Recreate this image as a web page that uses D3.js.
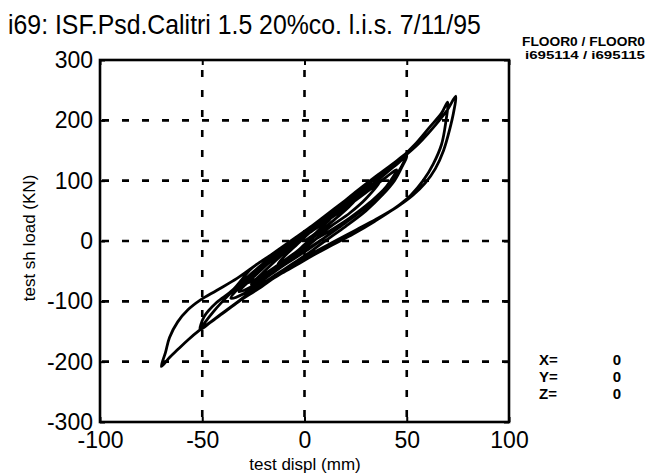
<!DOCTYPE html>
<html>
<head>
<meta charset="utf-8">
<title>i69 hysteresis</title>
<script src="https://cdnjs.cloudflare.com/ajax/libs/d3/7.8.5/d3.min.js"></script>
<style>
  body { margin: 0; background: #fff; }
  text { font-family: "Liberation Sans", Arial, Helvetica, sans-serif; fill: #000; }
</style>
</head>
<body>
<script>
// tick values of the two axes
var xTicks = [-100, -50, 0, 50, 100];
var yTicks = [-300, -200, -100, 0, 100, 200, 300];

// recorded loops, [displ (mm), load (KN)], in order of the test
var loopSmall = [[0,0],[5,12],[10,28],[13,38],[9,30],[4,18],[0,6],[-5,-10],[-10,-26],[-13,-38],[-9,-30],[-4,-18],[0,-6]];
var loop25 = [[5,8],[12,28],[19,48],[25,68],[20,58],[12,40],[4,20],[-4,-2],[-12,-26],[-19,-48],[-26,-72],[-21,-62],[-13,-44],[-5,-24],[3,-4]];
var loop37 = [[12,22],[22,46],[30,70],[37,100],[31,90],[22,68],[12,44],[2,18],[-8,-6],[-18,-34],[-28,-64],[-36,-95],[-30,-88],[-20,-64],[-10,-40],[0,-18]];
var loop50 = [[10,6],[20,30],[30,56],[40,88],[46,115],[50,145],[44,130],[36,110],[26,84],[15,54],[4,26],[-6,0],[-16,-26],[-26,-54],[-36,-86],[-44,-115],[-51,-147],[-46,-135],[-40,-120],[-32,-100],[-22,-78],[-12,-54],[-3,-34]];
var loopBig = [[5,-18],[15,0],[25,18],[35,36],[45,56],[53,76],[59,96],[64,120],[68,150],[71,185],[73,215],[74,240],
  [70,218],[64,192],[56,162],[48,138],[38,112],[27,84],[16,56],[6,30],[-4,6],[-14,-18],[-23,-38],[-33,-62],[-43,-82],[-51,-98],[-57,-114],[-62,-134],[-66,-160],[-68,-185],[-70,-208],
  [-66,-193],[-62,-180],[-57,-164],[-51,-147],[-45,-132],[-40,-119],[-33,-102],[-26,-86],[-19,-70],[-12,-55],[-4,-40]];
var loopBig2 = [[4,-24],[14,-6],[24,12],[34,32],[44,54],[52,76],[58,100],[63,128],[67,160],[69,195],[70,230],
  [67,212],[61,188],[54,160],[46,134],[36,108],[25,80],[14,52],[4,26],[-6,2],[-16,-22],[-26,-46],[-35,-81],[-43,-102],[-49,-125],[-51,-147]];
var loopTail = [[-45,-132],[-38,-114],[-30,-94],[-22,-74],[-14,-56],[-6,-38],[2,-20],[10,0],[20,24],[30,50],[38,76],[44,100],[48,125],[50,140],
  [44,124],[34,96],[22,64],[10,34],[0,10],[-10,-16],[-20,-44],[-28,-70],[-23,-62],[-14,-42],[-4,-18],[4,0]];
var loopEnd = [[12,16],[22,38],[32,64],[40,90],[45,118],[40,106],[30,80],[18,50],[6,22],[-6,-6],[-16,-32],[-25,-60],[-32,-84],[-26,-76],[-16,-54],[-6,-30],[2,-12],[10,6],[18,26]];

var readout = [["X=", "0"], ["Y=", "0"], ["Z=", "0"]];

var width = 652, height = 473;
var margin = {top: 60, left: 100, right: 143, bottom: 51};

var svg = d3.select("body").append("svg")
    .attr("width", width)
    .attr("height", height);

var x = d3.scaleLinear().domain([-100, 100]).range([margin.left, width - margin.right]);
var y = d3.scaleLinear().domain([-300, 300]).range([height - margin.bottom, margin.top]);

// dashed grid
var grid = svg.append("g").attr("class", "grid")
    .attr("stroke", "#000").attr("stroke-width", 2.6).attr("stroke-dasharray", "7,13");
grid.selectAll("line.h").data(yTicks.slice(1, -1)).enter().append("line")
    .attr("x1", x(-100)).attr("x2", x(100))
    .attr("y1", function (d) { return y(d); }).attr("y2", function (d) { return y(d); })
    .attr("stroke-dashoffset", -22);
grid.selectAll("line.v").data(xTicks.slice(1, -1)).enter().append("line")
    .attr("y1", y(300)).attr("y2", y(-300))
    .attr("x1", function (d) { return x(d); }).attr("x2", function (d) { return x(d); })
    .attr("stroke-dashoffset", -10);

// the test record
var record = [].concat(loopSmall, loop25, loop37, loop50, loopBig, loopBig2, loopTail, loopEnd);
var line = d3.line()
    .x(function (d) { return x(d[0]); })
    .y(function (d) { return y(d[1]); })
    .curve(d3.curveCatmullRom.alpha(0.5));
svg.append("path")
    .datum(record)
    .attr("d", line)
    .attr("fill", "none")
    .attr("stroke", "#000")
    .attr("stroke-width", 2.8)
    .attr("stroke-linejoin", "round");

// axes: inward ticks on all four sides, labels on left and bottom
function styleAxis(g) {
    g.select(".domain").remove();
    g.selectAll(".tick line").attr("stroke", "#000").attr("stroke-width", 2);
    g.selectAll(".tick text").attr("font-size", 23);
}
svg.append("g").attr("transform", "translate(0," + y(-300) + ")")
    .call(d3.axisBottom(x).tickValues(xTicks).tickSize(-5).tickPadding(10).tickFormat(String))
    .call(styleAxis);
svg.append("g").attr("transform", "translate(" + x(-100) + ",0)")
    .call(d3.axisLeft(y).tickValues(yTicks).tickSize(-5).tickPadding(7).tickFormat(String))
    .call(styleAxis);
svg.append("g").attr("transform", "translate(0," + y(300) + ")")
    .call(d3.axisTop(x).tickValues(xTicks).tickSize(-5).tickFormat(""))
    .call(styleAxis);
svg.append("g").attr("transform", "translate(" + x(100) + ",0)")
    .call(d3.axisRight(y).tickValues(yTicks).tickSize(-5).tickFormat(""))
    .call(styleAxis);

// frame
svg.append("rect")
    .attr("x", x(-100)).attr("y", y(300))
    .attr("width", x(100) - x(-100)).attr("height", y(-300) - y(300))
    .attr("fill", "none").attr("stroke", "#000").attr("stroke-width", 2.6);

// titles and labels (title is squeezed sideways like the printed original)
svg.append("text")
    .attr("transform", "translate(8,34) scale(0.955,1.08)")
    .attr("font-size", 26)
    .text("i69: ISF.Psd.Calitri 1.5 20%co. l.i.s. 7/11/95");

svg.append("text")
    .attr("x", 305).attr("y", 470)
    .attr("text-anchor", "middle").attr("font-size", 17)
    .text("test displ (mm)");

svg.append("text")
    .attr("transform", "translate(35,238) rotate(-90)")
    .attr("text-anchor", "middle").attr("font-size", 17)
    .text("test sh load (KN)");

svg.append("text")
    .attr("x", 645).attr("y", 46)
    .attr("text-anchor", "end").attr("font-size", 12).attr("font-weight", "bold")
    .attr("textLength", 123).attr("lengthAdjust", "spacingAndGlyphs")
    .text("FLOOR0 / FLOOR0");
svg.append("text")
    .attr("x", 645).attr("y", 59)
    .attr("text-anchor", "end").attr("font-size", 11).attr("font-weight", "bold")
    .attr("textLength", 120).attr("lengthAdjust", "spacingAndGlyphs")
    .text("i695114 / i695115");

// cursor readout
var rows = svg.append("g").selectAll("g").data(readout).enter().append("g")
    .attr("transform", function (d, i) { return "translate(0," + (365 + i * 17) + ")"; });
rows.append("text").attr("x", 539).attr("font-size", 15).attr("font-weight", "bold")
    .text(function (d) { return d[0]; });
rows.append("text").attr("x", 617).attr("text-anchor", "middle").attr("font-size", 15).attr("font-weight", "bold")
    .text(function (d) { return d[1]; });
</script>
</body>
</html>
